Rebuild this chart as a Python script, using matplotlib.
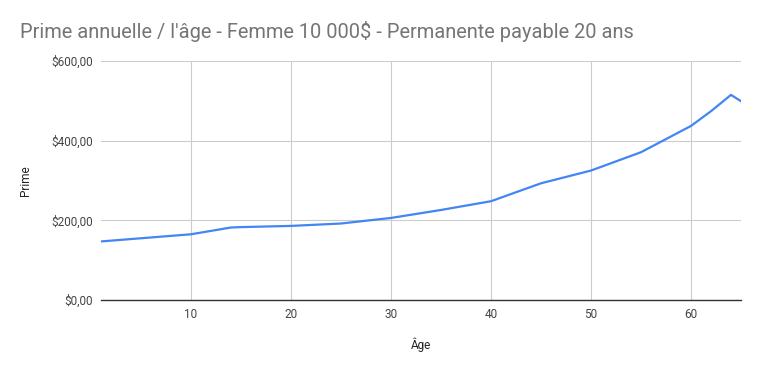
import matplotlib
matplotlib.use("Agg")
import matplotlib.pyplot as plt
from matplotlib.ticker import FuncFormatter

ages = [1, 5, 10, 14, 15, 20, 25, 30, 35, 40, 45, 50, 55, 60, 62, 64, 65]
primes = [147, 155, 165, 182, 183, 186, 192, 206, 226, 248, 293, 325, 371, 437, 474, 515, 499]

title = "Prime annuelle / l'âge - Femme 10 000$ - Permanente payable 20 ans"
xlabel = "Âge"
ylabel = "Prime"
xticks = [10, 20, 30, 40, 50, 60]
yticks = [0, 200, 400, 600]

plt.rcParams['font.family'] = ['Roboto', 'DejaVu Sans']

fig = plt.figure(figsize=(7.61, 3.71), dpi=100)
ax = fig.add_axes([101/761, 1-300/371, 640/761, 239/371])

ax.plot(ages, primes, color="#4285F4", lw=1.6, solid_joinstyle='round')
ax.set_xlim(1, 65)
ax.set_ylim(0, 600)
ax.set_xticks(xticks)
ax.set_yticks(yticks)
ax.yaxis.set_major_formatter(FuncFormatter(lambda v, p: "${:.2f}".format(v).replace(".", ",")))
ax.grid(True, color="#cccccc", lw=0.8)
ax.set_axisbelow(True)
for s in ["top", "right", "left"]:
    ax.spines[s].set_visible(False)
ax.spines["bottom"].set_color("#333333")
ax.spines["bottom"].set_linewidth(1.0)
ax.tick_params(axis="both", length=0, labelsize=8.5, colors="#444444", pad=6)
ax.tick_params(axis="x", pad=6)
ax.set_xlabel(xlabel, fontsize=8.5, color="#222222", labelpad=12)
ax.set_ylabel(ylabel, fontsize=8.5, color="#222222", labelpad=14)
fig.text(20/761, 1-31/371, title, fontsize=14.4, color="#757575", va="center", ha="left")

fig.savefig("out.png", dpi=100, facecolor="white")
